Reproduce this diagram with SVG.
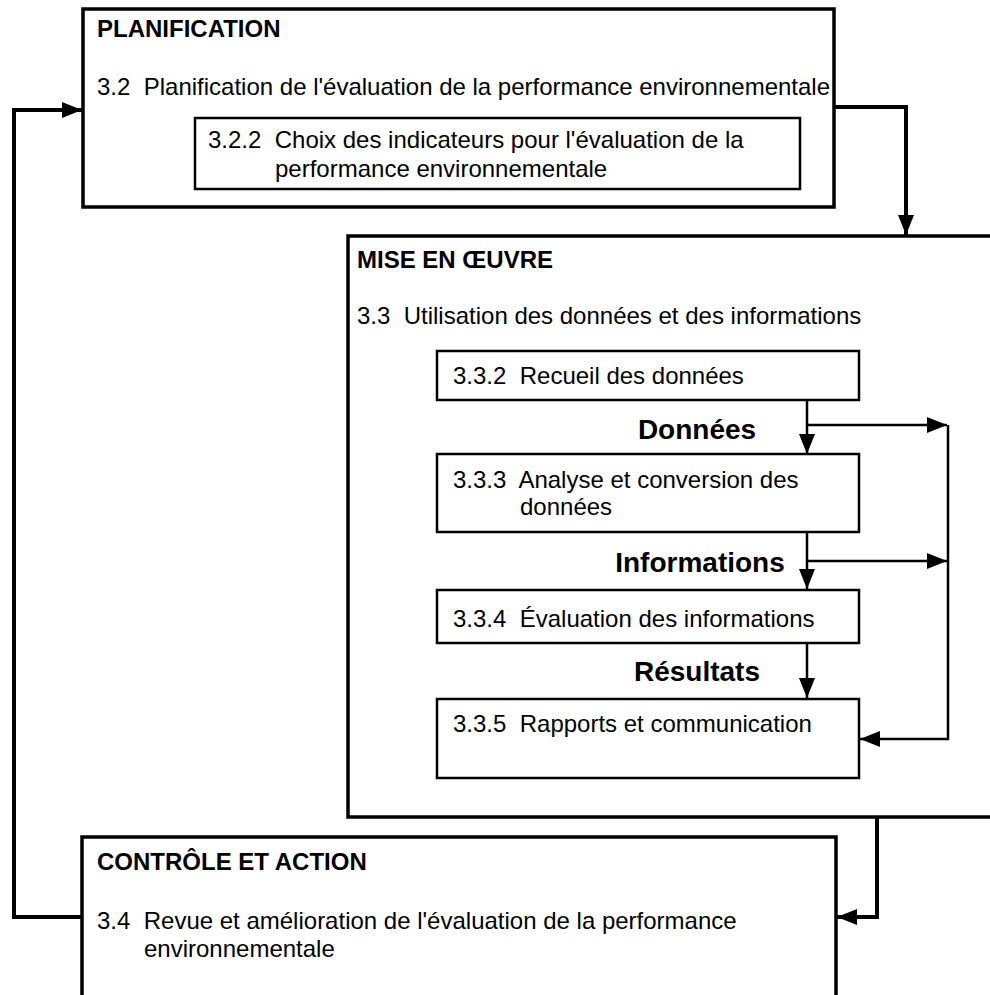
<svg xmlns="http://www.w3.org/2000/svg" width="990" height="995" viewBox="0 0 990 995" xml:space="preserve">
<defs>
<marker id="ah" viewBox="0 0 20 16" refX="20" refY="8" markerWidth="20" markerHeight="16" markerUnits="userSpaceOnUse" orient="auto">
<path d="M0,0 L20,8 L0,16 Z" fill="#000"/>
</marker>
<style>
text{font-family:"Liberation Sans",Arial,Helvetica,sans-serif;fill:#000;white-space:pre}
.t{font-size:24px}
.h{font-size:24px;font-weight:bold}
.lbl{font-size:28px;font-weight:bold;text-anchor:middle}
.outer{fill:#fff;stroke:#000;stroke-width:3.5}
.inner{fill:#fff;stroke:#000;stroke-width:2.5}
.c{fill:none;stroke:#000;stroke-linejoin:miter}
.thick{stroke-width:4}
.thin{stroke-width:2.5}
</style>
</defs>
<rect width="990" height="995" fill="#fff"/>
<g id="planification">
<rect class="outer" x="83" y="9" width="751" height="198"/>
<text class="h" x="97" y="37">PLANIFICATION</text>
<text class="t" x="97" y="95">3.2  Planification de l'évaluation de la performance environnementale</text>
</g>
<g id="choix-indicateurs">
<rect class="inner" x="195" y="118" width="605" height="71"/>
<text class="t" x="208" y="148">3.2.2  Choix des indicateurs pour l'évaluation de la</text>
<text class="t" x="275" y="177">performance environnementale</text>
</g>
<g id="mise-en-oeuvre">
<rect class="outer" x="348" y="236" width="700" height="581"/>
<text class="h" x="357" y="268">MISE EN ŒUVRE</text>
<text class="t" x="357" y="324">3.3  Utilisation des données et des informations</text>
</g>
<g id="recueil">
<rect class="inner" x="437" y="351" width="422" height="49"/>
<text class="t" x="453" y="384">3.3.2  Recueil des données</text>
</g>
<g id="analyse">
<rect class="inner" x="437" y="454" width="422" height="78"/>
<text class="t" x="453" y="488">3.3.3  Analyse et conversion des</text>
<text class="t" x="520" y="515">données</text>
</g>
<g id="evaluation">
<rect class="inner" x="437" y="590" width="422" height="53"/>
<text class="t" x="453" y="627">3.3.4  Évaluation des informations</text>
</g>
<g id="rapports">
<rect class="inner" x="437" y="699" width="422" height="79"/>
<text class="t" x="453" y="732">3.3.5  Rapports et communication</text>
</g>
<g id="controle-action">
<rect class="outer" x="82" y="837" width="754" height="200"/>
<text class="h" x="97" y="870">CONTRÔLE ET ACTION</text>
<text class="t" x="97" y="929">3.4  Revue et amélioration de l'évaluation de la performance</text>
<text class="t" x="144" y="957">environnementale</text>
</g>
<g id="labels">
<text class="lbl" x="697" y="439">Données</text>
<text class="lbl" x="700" y="572">Informations</text>
<text class="lbl" x="697" y="681">Résultats</text>
</g>
<g id="connectors">
<path class="c thick" d="M834,107 H906 V235" marker-end="url(#ah)"/>
<path class="c thick" d="M877,817 V917 H837" marker-end="url(#ah)"/>
<path class="c thick" d="M82,917 H14 V110 H82" marker-end="url(#ah)"/>
<path class="c thin" d="M807,400 V454" marker-end="url(#ah)"/>
<path class="c thin" d="M807,425 H947" marker-end="url(#ah)"/>
<path class="c thin" d="M807,532 V589" marker-end="url(#ah)"/>
<path class="c thin" d="M807,561 H947" marker-end="url(#ah)"/>
<path class="c thin" d="M807,643 V698" marker-end="url(#ah)"/>
<path class="c thin" d="M948,425 V739 H860" marker-end="url(#ah)"/>
</g>
</svg>
